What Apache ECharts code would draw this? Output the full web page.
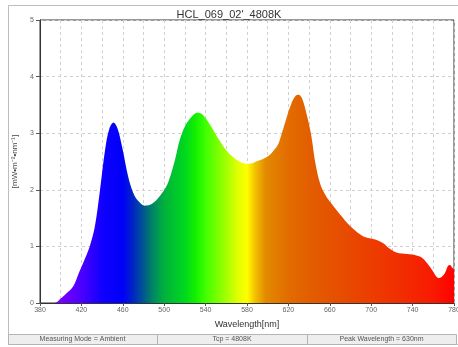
<!DOCTYPE html>
<html>
<head>
<meta charset="utf-8">
<script src="https://cdn.jsdelivr.net/npm/echarts@6/dist/echarts.min.js"></script>
<style>
  html, body { margin: 0; padding: 0; background: #fff; }
  #chart { width: 458px; height: 347px; }
</style>
</head>
<body>
<div id="chart"></div>
<script>
// Spectral power distribution, wavelength in nm
const wavelengths = [
  380, 394, 400, 405, 412, 418, 422, 428, 433, 438, 443, 447, 451, 455, 460, 465, 470, 475, 481, 487,
  493, 499, 504, 510, 515, 520, 525, 530, 533, 537, 541, 546, 551, 556, 560, 565, 570, 575, 580, 585,
  590, 596, 601, 606, 610, 614, 618, 623, 627, 630, 633, 637, 642, 646, 651, 656, 661, 667, 672, 677,
  682, 687, 692, 697, 702, 707, 712, 717, 722, 727, 732, 737, 742, 747, 751, 755, 759, 762, 765, 768,
  771, 774, 776, 778, 780
];
// Irradiance, mW·m⁻²·nm⁻¹
const irradiance = [
  0, 0, 0.08, 0.16, 0.29, 0.55, 0.72, 1.0, 1.35, 2.0, 2.72, 3.08, 3.19, 3.08, 2.7, 2.25, 1.95, 1.8, 1.72, 1.74,
  1.83, 1.97, 2.14, 2.5, 2.88, 3.12, 3.26, 3.35, 3.36, 3.33, 3.24, 3.1, 2.94, 2.8, 2.7, 2.6, 2.53, 2.48, 2.46, 2.47,
  2.51, 2.55, 2.6, 2.7, 2.8, 3.02, 3.26, 3.53, 3.66, 3.68, 3.62, 3.38, 2.97, 2.48, 2.09, 1.9, 1.77, 1.63, 1.52, 1.41,
  1.32, 1.24, 1.18, 1.15, 1.13, 1.1, 1.05, 0.97, 0.91, 0.88, 0.87, 0.86, 0.85, 0.82, 0.77, 0.68, 0.58, 0.49, 0.44, 0.46,
  0.52, 0.65, 0.67, 0.63, 0.59
];
const xTicks = [380, 420, 460, 500, 540, 580, 620, 660, 700, 740, 780];
const yTicks = [0, 1, 2, 3, 4, 5];

const titleText = "HCL_069_02'_4808K";
const xName = 'Wavelength[nm]';
const yName = '[mW\u2022m\u207B\u00B2\u2022nm\u207B\u00B9]';
const footerTexts = ['Measuring Mode = Ambient', 'Tcp = 4808K', 'Peak Wavelength = 630nm'];

// rainbow fill across the visible wavelength range
const spectrumStops = [
  [380, '#9000ff'], [400, '#7800ff'], [420, '#4c00ff'], [440, '#1000ff'], [460, '#0000f8'],
  [470, '#0026c4'], [480, '#005890'], [490, '#008a60'], [500, '#00b23c'], [520, '#00d820'],
  [530, '#12f000'], [540, '#40ff00'], [560, '#a4ff00'], [572, '#e4ff00'], [580, '#ffff00'],
  [588, '#f2c000'], [598, '#e28a00'], [620, '#e26c00'], [640, '#e25e00'], [680, '#e84800'],
  [720, '#f03200'], [760, '#f81a00'], [780, '#ff0000']
];

const xMin = xTicks[0], xMax = xTicks[xTicks.length - 1];
const colorStops = spectrumStops.map(([w, c]) => ({ offset: (w - xMin) / (xMax - xMin), color: c }));
const seriesData = wavelengths.map((w, i) => [w, irradiance[i]]);

const font = '"Liberation Sans", Arial, sans-serif';
const chart = echarts.init(document.getElementById('chart'), null, { renderer: 'canvas' });

const footTop = 334, footH = 10;
const cells = [[8, 157], [157, 307], [307, 456]];
const footerGraphics = [];
cells.forEach(([x0, x1], i) => {
  footerGraphics.push({
    type: 'rect', shape: { x: x0 + 0.5, y: footTop + 0.5, width: x1 - x0, height: footH },
    style: { fill: '#eeeeee', stroke: '#b4b4b4', lineWidth: 1 }, z: 10
  });
  footerGraphics.push({
    type: 'text', x: (x0 + x1) / 2, y: footTop + footH / 2 + 0.5,
    style: { text: footerTexts[i], font: '7px ' + font, fill: '#555', textAlign: 'center', textVerticalAlign: 'middle' }, z: 11
  });
});

chart.setOption({
  animation: false,
  backgroundColor: '#fff',
  textStyle: { fontFamily: font },
  title: {
    text: titleText, left: 'center', top: 4,
    textStyle: { fontSize: 11, fontWeight: 'normal', color: '#333', fontFamily: font }
  },
  graphic: [
    { type: 'rect', shape: { x: 8.5, y: 5.5, width: 460, height: 339 },
      style: { fill: 'none', stroke: '#bdbdbd', lineWidth: 1 }, z: 0 }
  ].concat(footerGraphics),
  grid: {
    left: 40, right: 4, top: 20, bottom: 44,
    containLabel: false, outerBoundsMode: 'none',
    show: true, borderColor: '#333', borderWidth: 1, backgroundColor: 'transparent'
  },
  xAxis: {
    type: 'value', min: xMin, max: xMax, interval: 40,
    name: xName, nameLocation: 'middle', nameGap: 17,
    nameTextStyle: { fontSize: 9, color: '#333', fontFamily: font },
    axisLine: { show: true, lineStyle: { color: '#333', width: 1 } },
    axisTick: { show: true, length: 3, lineStyle: { color: '#555' } },
    axisLabel: { fontSize: 7, color: '#666', margin: 4, fontFamily: font },
    splitLine: { show: true, lineStyle: { color: '#cfcfcf', type: [3, 3], width: 1 } },
    minorTick: { show: false, splitNumber: 2 },
    minorSplitLine: { show: true, lineStyle: { color: '#cfcfcf', type: [3, 3], width: 1 } }
  },
  yAxis: {
    type: 'value', min: yTicks[0], max: yTicks[yTicks.length - 1], interval: 1,
    name: yName, nameLocation: 'middle', nameGap: 19, nameRotate: 90,
    nameTextStyle: { fontSize: 8, color: '#444', fontFamily: font },
    axisLine: { show: true, lineStyle: { color: '#333', width: 1 } },
    axisTick: { show: true, length: 4, lineStyle: { color: '#555' } },
    axisLabel: { fontSize: 7, color: '#666', margin: 6, fontFamily: font },
    splitLine: { show: true, lineStyle: { color: '#cfcfcf', type: [3, 3], width: 1 } }
  },
  series: [{
    type: 'line',
    data: seriesData,
    smooth: 0.35,
    showSymbol: false,
    lineStyle: { width: 0 },
    areaStyle: {
      opacity: 1,
      color: new echarts.graphic.LinearGradient(0, 0, 1, 0, colorStops)
    },
    z: 3
  }]
});
</script>
</body>
</html>
